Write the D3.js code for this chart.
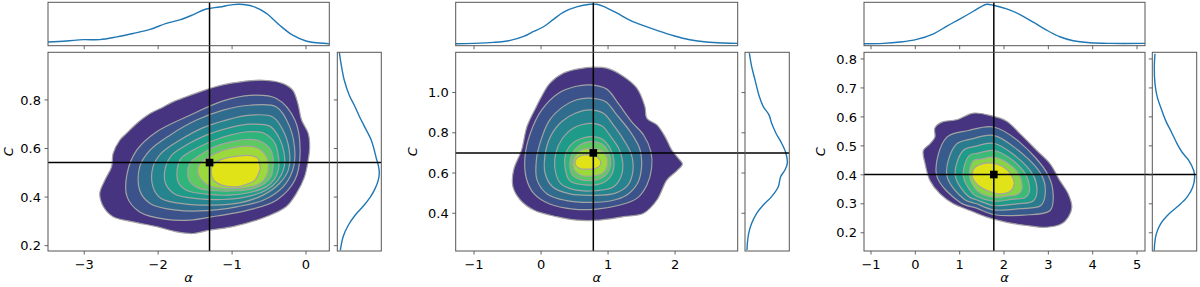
<!DOCTYPE html>
<html>
<head>
<meta charset="utf-8">
<script src="https://cdn.jsdelivr.net/npm/d3@7"></script>
<style>
  body { margin: 0; background: #fff; }
  svg { display: block; }
  text { font-family: "DejaVu Sans", sans-serif; fill: #000; }
</style>
</head>
<body>
<svg width="1200" height="287"></svg>
<script>
// ---------- data ----------
var xDomains = [[-3.49, 0.315], [-1.274, 2.935], [-1.158, 5.18]];
var yDomains = [[0.178, 0.996], [0.2125, 1.2], [0.137, 0.823]];
var xTicks = [[-3, -2, -1, 0], [-1, 0, 1, 2], [-1, 0, 1, 2, 3, 4, 5]];
var yTicks = [[0.2, 0.4, 0.6, 0.8], [0.4, 0.6, 0.8, 1.0], [0.2, 0.3, 0.4, 0.5, 0.6, 0.7, 0.8]];
var bestFit = [[-1.305, 0.542], [0.78, 0.70], [1.77, 0.401]];

// contour outlines [alpha, C], outermost first
var p1Levels = [
  [[-1.26,0.851],[-0.99,0.870],[-0.58,0.881],[-0.31,0.867],[-0.18,0.840],[-0.11,0.785],[-0.06,0.717],[0.03,0.662],[0.05,0.607],[0.03,0.552],[-0.02,0.483],[-0.13,0.415],[-0.27,0.360],[-0.54,0.319],[-0.99,0.278],[-1.30,0.264],[-1.53,0.250],[-1.75,0.257],[-2.02,0.278],[-2.34,0.298],[-2.61,0.319],[-2.74,0.360],[-2.79,0.415],[-2.72,0.470],[-2.63,0.525],[-2.61,0.579],[-2.52,0.634],[-2.43,0.662],[-2.29,0.703],[-2.11,0.744],[-1.93,0.771],[-1.80,0.792],[-1.62,0.813],[-1.44,0.833]],
  [[-0.08,0.580],[-0.15,0.717],[-0.40,0.806],[-0.76,0.819],[-1.12,0.796],[-1.57,0.737],[-2.02,0.669],[-2.29,0.593],[-2.42,0.497],[-2.42,0.401],[-2.25,0.339],[-1.89,0.308],[-1.57,0.305],[-1.21,0.322],[-0.81,0.344],[-0.40,0.387],[-0.15,0.470]],
  [[-0.15,0.580],[-0.22,0.689],[-0.40,0.771],[-0.76,0.778],[-1.12,0.758],[-1.48,0.717],[-1.84,0.655],[-2.11,0.593],[-2.25,0.524],[-2.25,0.428],[-2.11,0.374],[-1.75,0.346],[-1.35,0.344],[-0.94,0.360],[-0.58,0.387],[-0.31,0.442],[-0.18,0.511]],
  [[-0.22,0.572],[-0.29,0.662],[-0.45,0.730],[-0.76,0.737],[-1.08,0.717],[-1.39,0.686],[-1.71,0.634],[-1.96,0.580],[-2.07,0.524],[-2.07,0.442],[-1.96,0.394],[-1.62,0.371],[-1.26,0.367],[-0.90,0.376],[-0.58,0.408],[-0.36,0.456],[-0.24,0.511]],
  [[-0.29,0.566],[-0.36,0.641],[-0.49,0.692],[-0.76,0.700],[-1.03,0.686],[-1.35,0.655],[-1.62,0.614],[-1.82,0.572],[-1.90,0.524],[-1.90,0.456],[-1.77,0.412],[-1.48,0.394],[-1.12,0.390],[-0.81,0.401],[-0.54,0.428],[-0.38,0.470],[-0.30,0.518]],
  [[-0.37,0.559],[-0.42,0.621],[-0.56,0.662],[-0.78,0.669],[-1.03,0.655],[-1.30,0.627],[-1.53,0.593],[-1.69,0.559],[-1.74,0.518],[-1.73,0.463],[-1.62,0.428],[-1.35,0.412],[-1.03,0.408],[-0.76,0.419],[-0.54,0.442],[-0.42,0.477],[-0.37,0.518]],
  [[-0.44,0.552],[-0.49,0.600],[-0.63,0.632],[-0.81,0.637],[-1.03,0.626],[-1.26,0.604],[-1.44,0.572],[-1.57,0.541],[-1.60,0.504],[-1.57,0.463],[-1.46,0.438],[-1.21,0.426],[-0.94,0.426],[-0.72,0.435],[-0.56,0.456],[-0.47,0.486],[-0.45,0.518]],
  [[-0.51,0.545],[-0.56,0.580],[-0.67,0.604],[-0.83,0.610],[-1.03,0.600],[-1.21,0.582],[-1.35,0.559],[-1.45,0.531],[-1.46,0.497],[-1.41,0.470],[-1.30,0.445],[-1.08,0.435],[-0.85,0.438],[-0.67,0.449],[-0.57,0.470],[-0.52,0.497],[-0.51,0.518]],
  [[-0.63,0.538],[-0.65,0.559],[-0.74,0.570],[-0.90,0.570],[-1.05,0.563],[-1.19,0.549],[-1.27,0.527],[-1.28,0.497],[-1.25,0.470],[-1.14,0.449],[-0.95,0.442],[-0.81,0.452],[-0.69,0.470],[-0.64,0.497],[-0.62,0.518]]
];
var p2Levels = [
  [[0.78,1.126],[0.98,1.121],[1.23,1.080],[1.43,1.022],[1.55,0.930],[1.58,0.872],[1.73,0.839],[1.85,0.781],[1.95,0.715],[2.05,0.673],[2.11,0.645],[2.03,0.612],[1.88,0.566],[1.73,0.466],[1.53,0.400],[1.23,0.383],[0.88,0.366],[0.53,0.366],[0.23,0.383],[-0.11,0.416],[-0.31,0.466],[-0.42,0.532],[-0.41,0.615],[-0.29,0.715],[-0.21,0.831],[-0.07,0.930],[0.13,1.046],[0.33,1.096],[0.56,1.118]],
  [[0.73,1.038],[0.98,1.017],[1.15,0.947],[1.35,0.856],[1.53,0.789],[1.64,0.706],[1.65,0.624],[1.58,0.541],[1.43,0.474],[1.18,0.441],[0.83,0.421],[0.48,0.421],[0.13,0.446],[-0.11,0.499],[-0.22,0.574],[-0.24,0.682],[-0.16,0.798],[0.01,0.914],[0.26,0.997],[0.51,1.030]],
  [[0.73,0.972],[0.96,0.955],[1.13,0.889],[1.33,0.806],[1.47,0.723],[1.50,0.632],[1.44,0.549],[1.28,0.491],[1.03,0.461],[0.73,0.454],[0.38,0.463],[0.09,0.496],[-0.06,0.566],[-0.07,0.665],[0.00,0.765],[0.13,0.864],[0.33,0.930],[0.53,0.964]],
  [[0.73,0.914],[0.93,0.897],[1.09,0.834],[1.25,0.756],[1.35,0.690],[1.37,0.607],[1.29,0.537],[1.10,0.499],[0.78,0.489],[0.43,0.496],[0.18,0.529],[0.06,0.599],[0.06,0.690],[0.14,0.781],[0.31,0.856],[0.51,0.897]],
  [[0.73,0.847],[0.91,0.834],[1.04,0.781],[1.17,0.715],[1.22,0.648],[1.19,0.579],[1.07,0.529],[0.81,0.512],[0.51,0.516],[0.29,0.549],[0.21,0.615],[0.22,0.698],[0.31,0.768],[0.48,0.823]],
  [[0.73,0.781],[0.91,0.769],[1.03,0.723],[1.09,0.657],[1.05,0.590],[0.91,0.549],[0.66,0.541],[0.43,0.561],[0.36,0.624],[0.37,0.698],[0.48,0.751],[0.61,0.773]],
  [[0.73,0.756],[0.90,0.745],[1.01,0.701],[1.04,0.645],[0.98,0.595],[0.82,0.566],[0.61,0.566],[0.47,0.590],[0.43,0.640],[0.46,0.693],[0.56,0.735]],
  [[0.73,0.723],[0.88,0.715],[0.98,0.682],[0.99,0.635],[0.92,0.599],[0.76,0.585],[0.58,0.590],[0.49,0.619],[0.48,0.662],[0.54,0.698],[0.63,0.718]],
  [[0.68,0.690],[0.81,0.685],[0.88,0.665],[0.89,0.643],[0.83,0.625],[0.71,0.619],[0.57,0.624],[0.51,0.643],[0.52,0.668],[0.58,0.685]]
];
var p3Levels = [
  [[0.44,0.562],[0.60,0.582],[0.93,0.590],[1.31,0.613],[1.69,0.605],[2.06,0.585],[2.36,0.542],[2.74,0.484],[3.04,0.438],[3.26,0.380],[3.45,0.334],[3.53,0.288],[3.45,0.254],[3.30,0.231],[2.96,0.219],[2.51,0.225],[2.06,0.236],[1.61,0.254],[1.23,0.277],[0.86,0.300],[0.56,0.334],[0.33,0.380],[0.22,0.438],[0.18,0.484],[0.33,0.507],[0.44,0.530]],
  [[1.76,0.565],[2.35,0.513],[3.00,0.398],[3.11,0.329],[3.04,0.277],[2.44,0.261],[1.76,0.263],[1.38,0.285],[1.02,0.304],[0.48,0.398],[0.71,0.530],[1.20,0.553]],
  [[1.76,0.536],[2.25,0.493],[2.85,0.398],[2.93,0.334],[2.83,0.294],[2.36,0.283],[1.76,0.279],[1.38,0.300],[1.11,0.315],[0.71,0.398],[0.92,0.505],[1.27,0.524]],
  [[1.76,0.509],[2.17,0.475],[2.66,0.398],[2.74,0.337],[2.65,0.309],[2.29,0.300],[1.76,0.294],[1.38,0.314],[1.20,0.325],[0.90,0.398],[1.08,0.484],[1.35,0.498]],
  [[1.76,0.484],[2.12,0.459],[2.50,0.398],[2.57,0.340],[2.47,0.321],[2.21,0.316],[1.76,0.309],[1.38,0.326],[1.29,0.336],[1.08,0.398],[1.22,0.467],[1.42,0.475]],
  [[1.76,0.461],[2.06,0.443],[2.35,0.398],[2.40,0.348],[2.30,0.332],[2.10,0.327],[1.76,0.323],[1.40,0.344],[1.22,0.398],[1.31,0.449],[1.48,0.454]],
  [[1.76,0.440],[2.00,0.426],[2.17,0.398],[2.23,0.369],[2.15,0.344],[1.91,0.334],[1.65,0.344],[1.42,0.363],[1.29,0.392],[1.32,0.421],[1.50,0.438]]
];

// marginal densities: top = [alpha, density], side = [C, density]
var p1TopKde = [[-3.49,0.036],[-3.24,0.045],[-3.01,0.057],[-2.79,0.057],[-2.56,0.081],[-2.34,0.111],[-2.11,0.147],[-1.89,0.201],[-1.71,0.231],[-1.53,0.276],[-1.35,0.327],[-1.17,0.345],[-0.99,0.366],[-0.90,0.369],[-0.72,0.351],[-0.54,0.291],[-0.36,0.186],[-0.18,0.096],[0.00,0.045],[0.18,0.027],[0.31,0.021]];
var p2TopKde = [[-1.27,0.015],[-1.01,0.018],[-0.71,0.027],[-0.46,0.045],[-0.26,0.081],[-0.11,0.126],[0.03,0.165],[0.18,0.231],[0.33,0.297],[0.53,0.345],[0.73,0.369],[0.83,0.369],[0.93,0.351],[1.13,0.291],[1.33,0.225],[1.53,0.177],[1.73,0.135],[1.98,0.087],[2.22,0.051],[2.47,0.030],[2.72,0.021],[2.94,0.018]];
var p3TopKde = [[-1.158,0.012],[-0.72,0.015],[-0.35,0.027],[0.03,0.051],[0.41,0.102],[0.71,0.171],[1.01,0.237],[1.31,0.306],[1.50,0.351],[1.61,0.369],[1.76,0.360],[2.06,0.327],[2.36,0.276],[2.66,0.207],[2.96,0.135],[3.26,0.075],[3.56,0.039],[3.94,0.021],[4.39,0.015],[5.18,0.015]];
var p1SideKde = [[0.996,0.024],[0.943,0.042],[0.881,0.069],[0.819,0.114],[0.778,0.159],[0.733,0.204],[0.684,0.258],[0.634,0.312],[0.593,0.339],[0.560,0.357],[0.531,0.375],[0.503,0.384],[0.470,0.375],[0.437,0.348],[0.400,0.303],[0.363,0.240],[0.326,0.168],[0.284,0.105],[0.239,0.060],[0.181,0.033]];
var p2SideKde = [[1.196,0.036],[1.129,0.057],[1.063,0.087],[0.980,0.126],[0.930,0.162],[0.889,0.213],[0.847,0.237],[0.798,0.276],[0.748,0.327],[0.698,0.366],[0.648,0.378],[0.615,0.357],[0.582,0.318],[0.532,0.297],[0.483,0.237],[0.441,0.162],[0.400,0.102],[0.350,0.057],[0.300,0.030],[0.250,0.018],[0.217,0.015]];
var p3SideKde = [[0.818,0.033],[0.772,0.027],[0.714,0.033],[0.668,0.054],[0.634,0.084],[0.588,0.129],[0.547,0.183],[0.507,0.234],[0.478,0.279],[0.450,0.339],[0.415,0.384],[0.392,0.393],[0.357,0.375],[0.323,0.324],[0.294,0.249],[0.265,0.159],[0.231,0.084],[0.196,0.045],[0.162,0.030],[0.139,0.027]];

// ---------- layout ----------
var mainTop = 52.3, mainBot = 251, topTop = 2.3, topBot = 45.7;
var layout = [
  {x0: 48,    x1: 329.3, s0: 337.3,  s1: 381.3,  ylab: 13.3},
  {x0: 455.7, x1: 737.7, s0: 745,    s1: 789.3,  ylab: 417},
  {x0: 864,   x1: 1145,  s0: 1152.3, s1: 1196.7, ylab: 825}
];
var panels = [
  {levels: p1Levels, top: p1TopKde, side: p1SideKde},
  {levels: p2Levels, top: p2TopKde, side: p2SideKde},
  {levels: p3Levels, top: p3TopKde, side: p3SideKde}
];

var svg = d3.select("svg");
var defs = svg.append("defs");
var spine = "#555", tickLen = 3.5;

function padDomain(vals) {
  var ext = d3.extent(vals), r = ext[1] - ext[0];
  return [ext[0] - 0.05 * r, ext[1] + 0.05 * r];
}

panels.forEach(function(p, i) {
  var L = layout[i];
  var x = d3.scaleLinear().domain(xDomains[i]).range([L.x0, L.x1]);
  var y = d3.scaleLinear().domain(yDomains[i]).range([mainBot, mainTop]);
  var dTop = d3.scaleLinear().domain(padDomain(p.top.map(d => d[1]))).range([topBot, topTop]);
  var dSide = d3.scaleLinear().domain(padDomain(p.side.map(d => d[1]))).range([L.s0, L.s1]);

  ["main", "top", "side"].forEach(function(k) {
    var r = k == "main" ? [L.x0, mainTop, L.x1, mainBot]
          : k == "top" ? [L.x0, topTop, L.x1, topBot]
          : [L.s0, mainTop, L.s1, mainBot];
    defs.append("clipPath").attr("id", "clip-" + k + i).append("rect")
      .attr("x", r[0]).attr("y", r[1]).attr("width", r[2] - r[0]).attr("height", r[3] - r[1]);
  });

  var g = svg.append("g");

  // filled contours
  var n = p.levels.length;
  var color = k => d3.interpolateViridis(0.15 + 0.8 * k / (n - 1));
  var outline = d3.line().x(d => x(d[0])).y(d => y(d[1])).curve(d3.curveCatmullRomClosed.alpha(0.5));
  g.append("g").attr("clip-path", "url(#clip-main" + i + ")")
    .selectAll("path").data(p.levels).join("path")
    .attr("d", outline)
    .attr("fill", (d, k) => color(k))
    .attr("stroke", "#a3a3a3")
    .attr("stroke-width", 1.2);

  // marginal KDEs
  var topLine = d3.line().x(d => x(d[0])).y(d => dTop(d[1])).curve(d3.curveCatmullRom.alpha(0.5));
  g.append("path").datum(p.top).attr("clip-path", "url(#clip-top" + i + ")")
    .attr("d", topLine).attr("fill", "none").attr("stroke", "#1f77b4").attr("stroke-width", 1.4);
  var sideLine = d3.line().x(d => dSide(d[1])).y(d => y(d[0])).curve(d3.curveCatmullRom.alpha(0.5));
  g.append("path").datum(p.side).attr("clip-path", "url(#clip-side" + i + ")")
    .attr("d", sideLine).attr("fill", "none").attr("stroke", "#1f77b4").attr("stroke-width", 1.4);

  // best-fit cross hair and marker
  var bx = x(bestFit[i][0]), by = y(bestFit[i][1]);
  g.append("line").attr("x1", bx).attr("x2", bx).attr("y1", topTop).attr("y2", mainBot)
    .attr("stroke", "#000").attr("stroke-width", 1.5);
  g.append("line").attr("x1", L.x0).attr("x2", L.s1).attr("y1", by).attr("y2", by)
    .attr("stroke", "#000").attr("stroke-width", 1.5);
  g.append("rect").attr("x", bx - 3.8).attr("y", by - 3.8).attr("width", 7.6).attr("height", 7.6)
    .attr("fill", "#000");

  // frames
  [[L.x0, mainTop, L.x1, mainBot], [L.x0, topTop, L.x1, topBot], [L.s0, mainTop, L.s1, mainBot]]
    .forEach(function(r) {
      g.append("rect").attr("x", r[0]).attr("y", r[1]).attr("width", r[2] - r[0]).attr("height", r[3] - r[1])
        .attr("fill", "none").attr("stroke", spine).attr("stroke-width", 1);
    });

  // ticks: main x (with labels), top marginal x (no labels)
  var fx = d3.format("d");
  xTicks[i].forEach(function(t) {
    var tx = x(t);
    g.append("line").attr("x1", tx).attr("x2", tx).attr("y1", mainBot).attr("y2", mainBot + tickLen)
      .attr("stroke", spine).attr("stroke-width", 0.9);
    g.append("line").attr("x1", tx).attr("x2", tx).attr("y1", topBot).attr("y2", topBot + tickLen)
      .attr("stroke", spine).attr("stroke-width", 0.9);
    g.append("text").attr("x", tx).attr("y", 268.5).attr("text-anchor", "middle")
      .style("font-size", "13px").text(fx(t));
  });
  var fy = d3.format(".1f");
  yTicks[i].forEach(function(t) {
    var ty = y(t);
    g.append("line").attr("x1", L.x0 - tickLen).attr("x2", L.x0).attr("y1", ty).attr("y2", ty)
      .attr("stroke", spine).attr("stroke-width", 0.9);
    g.append("line").attr("x1", L.s0 - tickLen).attr("x2", L.s0).attr("y1", ty).attr("y2", ty)
      .attr("stroke", spine).attr("stroke-width", 0.9);
    g.append("text").attr("x", L.x0 - 7).attr("y", ty).attr("dy", "0.36em").attr("text-anchor", "end")
      .style("font-size", "13px").text(fy(t));
  });

  // axis labels
  g.append("text").attr("x", (L.x0 + L.x1) / 2).attr("y", 282).attr("text-anchor", "middle")
    .style("font-size", "13px").style("font-style", "italic").text("α");
  g.append("text").attr("transform", "translate(" + L.ylab + "," + (mainTop + mainBot) / 2 + ") rotate(-90)")
    .attr("text-anchor", "middle").style("font-size", "13px").style("font-style", "italic").text("C");
});
</script>
</body>
</html>
